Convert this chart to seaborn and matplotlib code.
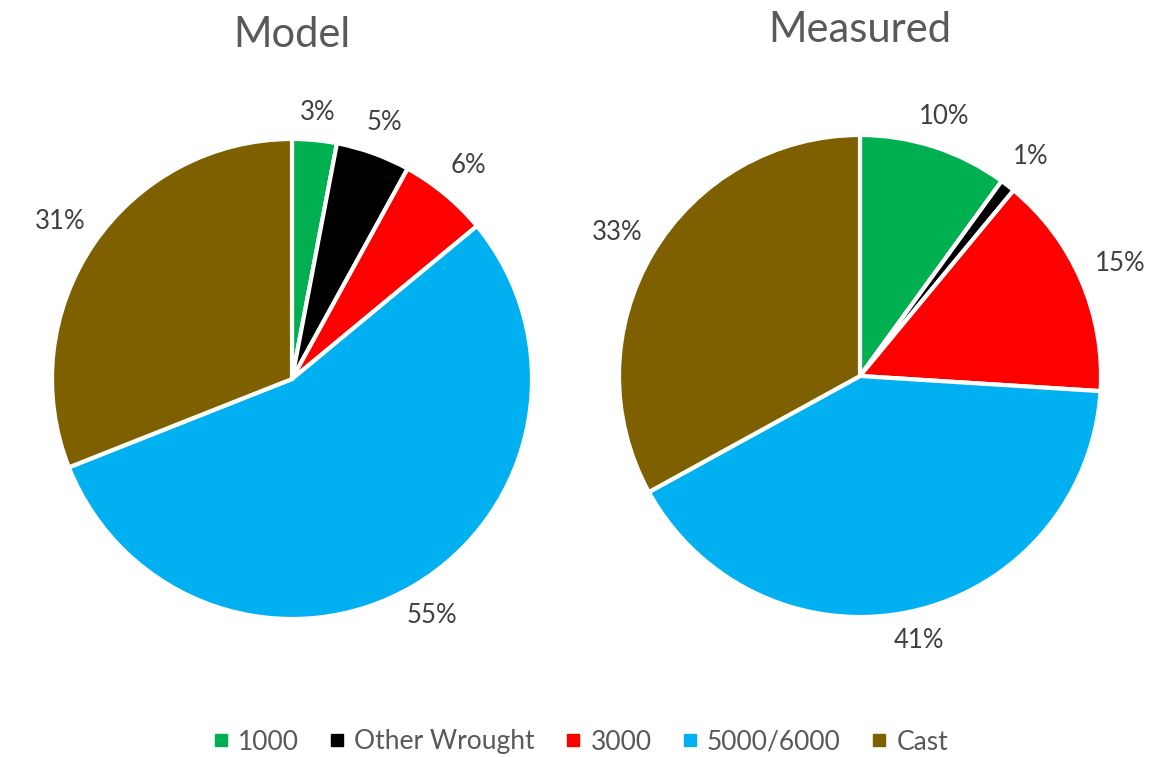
import numpy as np
import matplotlib.pyplot as plt
import seaborn as sns
from matplotlib.lines import Line2D

sns.set_theme(style="white")
plt.rcParams["font.family"] = ["Lato", "DejaVu Sans"]

categories = ["1000", "Other Wrought", "3000", "5000/6000", "Cast"]
modelValues = [3, 5, 6, 55, 31]
measuredValues = [10, 1, 15, 41, 33]
colors = ["#00B050", "#000000", "#FF0000", "#00B0F0", "#7F6000"]

fig = plt.figure(figsize=(11.61, 7.57), dpi=100)
W, H = 1161, 757

def drawPie(cx, cy, r, values, title, titleY):
    ax = fig.add_axes([(cx - r) / W, (H - cy - r) / H, 2 * r / W, 2 * r / H])
    wedges, _, autotexts = ax.pie(values, colors=colors, startangle=90, counterclock=False,
                                  autopct=lambda p: f"{p:.0f}%", pctdistance=1.15,
                                  wedgeprops=dict(edgecolor="white", linewidth=3),
                                  textprops=dict(color="#404040", fontsize=18.5))
    # push side labels a little further out, like Excel's "outside end"
    for w, t in zip(wedges, autotexts):
        ang = np.deg2rad((w.theta1 + w.theta2) / 2)
        d = 1.11 + 0.07 * abs(np.cos(ang))
        t.set_position((d * np.cos(ang), d * np.sin(ang)))
    ax.set_xlim(-1, 1)
    ax.set_ylim(-1, 1)
    ax.set_aspect("equal")
    ax.axis("off")
    fig.text(cx / W, 1 - titleY / H, title, ha="center", va="center",
             fontsize=30, color="#595959")

drawPie(292, 379, 240, modelValues, "Model", 35)
drawPie(860, 376, 241, measuredValues, "Measured", 30)

handles = [Line2D([0], [0], marker="s", linestyle="none", markersize=8,
                  markerfacecolor=c, markeredgecolor=c) for c in colors]
fig.legend(handles, categories, loc="center", bbox_to_anchor=(0.5, 1 - 742 / H),
           ncol=5, frameon=False, fontsize=19, handlelength=0.6,
           handletextpad=0.35, columnspacing=1.15, labelcolor="#595959")

plt.savefig("out.png", dpi=100)
